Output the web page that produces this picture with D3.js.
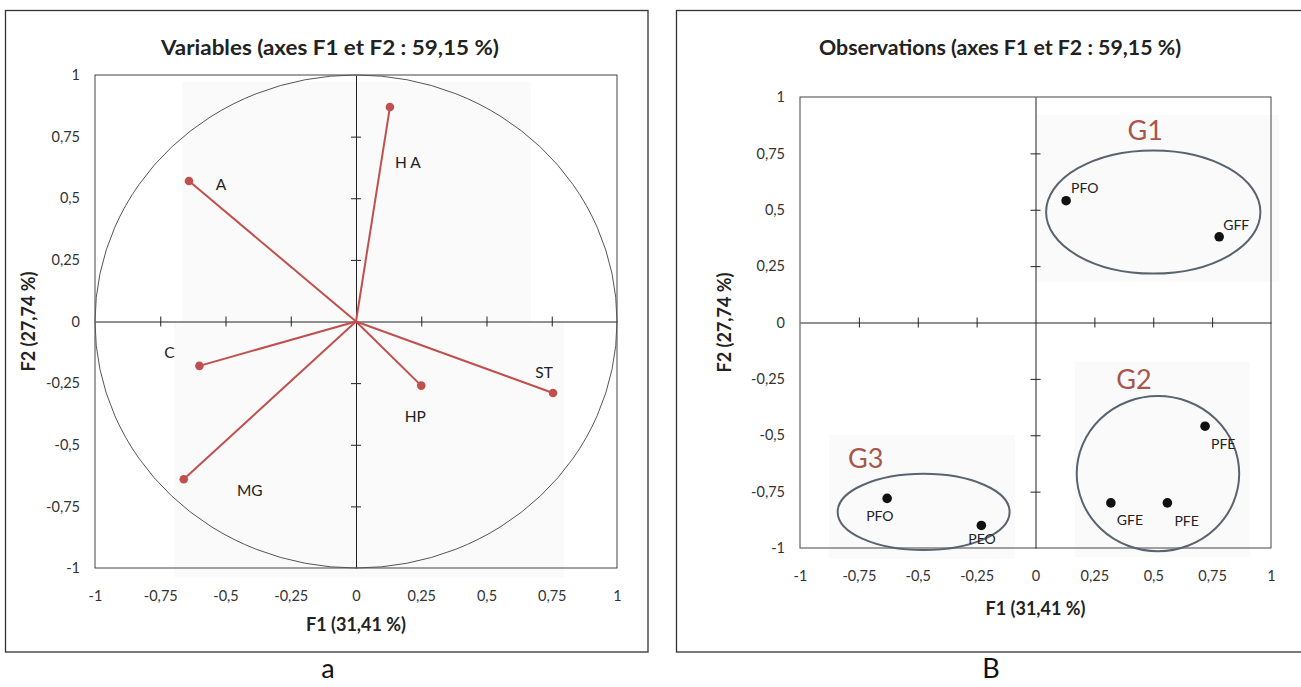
<!DOCTYPE html>
<html><head><meta charset="utf-8">
<script src="https://cdn.jsdelivr.net/npm/d3@7"></script>
<style>
html,body{margin:0;padding:0;background:#fff;}
svg{display:block;}
text{font-family:Lato,"Open Sans",sans-serif;}
</style></head>
<body>
<svg id="c" width="1301" height="687"></svg>
<script>
// ---- data ----
const tickValues = [-1,-0.75,-0.5,-0.25,0,0.25,0.5,0.75,1];
const titleLeft = "Variables (axes F1 et F2 : 59,15 %)";
const titleRight = "Observations (axes F1 et F2 : 59,15 %)";
const xTitle = "F1 (31,41 %)";
const yTitle = "F2 (27,74 %)";
const varNames = ["A","H A","C","MG","HP","ST"];
const varF1 = [-0.64, 0.13, -0.60, -0.66, 0.25, 0.755];
const varF2 = [0.57, 0.87, -0.18, -0.64, -0.26, -0.29];
const obsNames = ["PFO","GFF","PFE","GFE","PFE","PFO","PEO"];
const obsF1 = [0.13, 0.78, 0.72, 0.32, 0.56, -0.63, -0.23];
const obsF2 = [0.54, 0.38, -0.46, -0.80, -0.80, -0.78, -0.90];
const groupNames = ["G1","G2","G3"];
const groupCx = [0.50, 0.52, -0.475];
const groupCy = [0.49, -0.67, -0.84];
const groupRx = [0.455, 0.345, 0.365];
const groupRy = [0.273, 0.344, 0.169];

// ---- layout (pixel offsets for labels) ----
const varLabelOff = [[32,3],[18,55],[-30,-14],[66,11],[-6,30],[-9,-21]];
const obsLabelOff = [[5,-13],[4,-12],[6,17],[6,17],[7,18],[-21,17],[-13,13]];
const groupLabelOff = [[-8,-21],[-24,-18],[-58,-16]];

const svg = d3.select("#c");
const fmt = d => String(d).replace(".", ",");

function panel(opts){
  const g = svg.append("g");
  const x = d3.scaleLinear().domain([-1,1]).range(opts.xr);
  const y = d3.scaleLinear().domain([-1,1]).range(opts.yr);
  // faint scan backgrounds
  (opts.bg||[]).forEach(b=>{
    g.append("rect").attr("x",b[0]).attr("y",b[1]).attr("width",b[2]-b[0]).attr("height",b[3]-b[1]).attr("fill","#fafafa");
  });
  // outer box
  g.append("rect").attr("x",opts.box[0]).attr("y",opts.box[1])
    .attr("width",opts.box[2]-opts.box[0]).attr("height",opts.box[3]-opts.box[1])
    .attr("fill","none").attr("stroke","#333").attr("stroke-width",1.3);
  // title
  g.append("text").attr("x",opts.titleX).attr("y",opts.titleY).attr("text-anchor","middle")
    .attr("font-size",21).attr("font-weight","bold").attr("fill","#222")
    .attr("textLength",opts.titleW).attr("lengthAdjust","spacingAndGlyphs").text(opts.title);
  // frame
  g.append("rect").attr("x",x(-1)).attr("y",y(1)).attr("width",x(1)-x(-1)).attr("height",y(-1)-y(1))
    .attr("fill","none").attr("stroke","#444").attr("stroke-width",1);
  // tick labels via axes
  const ax = g.append("g").attr("transform",`translate(0,${y(-1)+20})`)
    .call(d3.axisBottom(x).tickValues(tickValues).tickFormat(fmt).tickSize(0));
  ax.select(".domain").remove();
  ax.selectAll("text").attr("font-family","Lato,sans-serif").attr("font-size",14.5).attr("fill","#333");
  const ay = g.append("g").attr("transform",`translate(${x(-1)-12},0)`)
    .call(d3.axisLeft(y).tickValues(tickValues).tickFormat(fmt).tickSize(0));
  ay.select(".domain").remove();
  ay.selectAll("text").attr("font-family","Lato,sans-serif").attr("font-size",14.5).attr("fill","#333");
  // zero axes with crossing ticks
  const zx = g.append("g").attr("transform",`translate(0,${y(0)})`)
    .call(d3.axisBottom(x).tickValues(tickValues.filter(v=>v!==0 && Math.abs(v)!==1)).tickFormat("").tickSizeOuter(0));
  zx.select(".domain").attr("stroke","#222");
  zx.selectAll(".tick line").attr("y1",-5).attr("y2",5).attr("stroke","#222");
  const zy = g.append("g").attr("transform",`translate(${x(0)},0)`)
    .call(d3.axisLeft(y).tickValues(tickValues.filter(v=>v!==0 && Math.abs(v)!==1)).tickFormat("").tickSizeOuter(0));
  zy.select(".domain").attr("stroke","#222");
  zy.selectAll(".tick line").attr("x1",-5).attr("x2",5).attr("stroke","#222");
  // axis titles
  g.append("text").attr("x",x(0)).attr("y",opts.xTitleY).attr("text-anchor","middle")
    .attr("font-size",18).attr("font-weight","bold").attr("fill","#222").text(xTitle);
  g.append("text").attr("transform",`translate(${opts.yTitleX},${y(0)}) rotate(-90)`).attr("text-anchor","middle")
    .attr("dominant-baseline","central").attr("font-size",18).attr("font-weight","bold").attr("fill","#222").text(yTitle);
  // caption
  g.append("text").attr("x",opts.capX).attr("y",678).attr("text-anchor","middle")
    .attr("font-family","'Liberation Serif',serif").attr("font-size",27).attr("fill","#111").text(opts.caption);
  return {g,x,y};
}

// ---- left panel ----
const L = panel({xr:[95,617], yr:[568,75], box:[5.5,10.5,648,652], title:titleLeft, titleX:330, titleY:55, titleW:338,
  xTitleY:631, yTitleX:28, capX:328, caption:"a",
  bg:[[182,82,531,322],[174,322,564,577]]});
// correlation circle
L.g.append("ellipse").attr("cx",L.x(0)).attr("cy",L.y(0)).attr("rx",L.x(1)-L.x(0)).attr("ry",L.y(0)-L.y(1))
  .attr("fill","none").attr("stroke","#555").attr("stroke-width",1);
const vars = varNames.map((n,i)=>({n,f1:varF1[i],f2:varF2[i],off:varLabelOff[i]}));
L.g.selectAll("line.v").data(vars).join("line").attr("class","v")
  .attr("x1",L.x(0)).attr("y1",L.y(0)).attr("x2",d=>L.x(d.f1)).attr("y2",d=>L.y(d.f2))
  .attr("stroke","#c0504d").attr("stroke-width",2);
L.g.selectAll("circle.v").data(vars).join("circle").attr("class","v")
  .attr("cx",d=>L.x(d.f1)).attr("cy",d=>L.y(d.f2)).attr("r",4.3).attr("fill","#c0504d");
L.g.selectAll("text.v").data(vars).join("text").attr("class","v")
  .attr("x",d=>L.x(d.f1)+d.off[0]).attr("y",d=>L.y(d.f2)+d.off[1]).attr("text-anchor","middle")
  .attr("dominant-baseline","central").attr("font-size",15.5).attr("fill","#222").text(d=>d.n);

// ---- right panel ----
const R = panel({xr:[800,1271], yr:[548,97], box:[676.5,10.5,1306,652], title:titleRight, titleX:1000, titleY:55, titleW:362,
  xTitleY:615, yTitleX:724, capX:991, caption:"B",
  bg:[[1036,115,1279,282],[1075,362,1250,557],[829,435,1015,559]]});
const groups = groupNames.map((n,i)=>({n,cx:groupCx[i],cy:groupCy[i],rx:groupRx[i],ry:groupRy[i],off:groupLabelOff[i]}));
R.g.selectAll("ellipse.g").data(groups).join("ellipse").attr("class","g")
  .attr("cx",d=>R.x(d.cx)).attr("cy",d=>R.y(d.cy))
  .attr("rx",d=>R.x(d.rx)-R.x(0)).attr("ry",d=>R.y(0)-R.y(d.ry))
  .attr("fill","none").attr("stroke","#5a6470").attr("stroke-width",2);
R.g.selectAll("text.g").data(groups).join("text").attr("class","g")
  .attr("x",d=>R.x(d.cx)+d.off[0]).attr("y",d=>R.y(d.cy+d.ry)+d.off[1]).attr("text-anchor","middle")
  .attr("dominant-baseline","central").attr("font-size",27).attr("fill","#a8564c").text(d=>d.n);
const obs = obsNames.map((n,i)=>({n,f1:obsF1[i],f2:obsF2[i],off:obsLabelOff[i]}));
R.g.selectAll("circle.o").data(obs).join("circle").attr("class","o")
  .attr("cx",d=>R.x(d.f1)).attr("cy",d=>R.y(d.f2)).attr("r",4.8).attr("fill","#111");
R.g.selectAll("text.o").data(obs).join("text").attr("class","o")
  .attr("x",d=>R.x(d.f1)+d.off[0]).attr("y",d=>R.y(d.f2)+d.off[1])
  .attr("dominant-baseline","central").attr("font-size",14).attr("fill","#222").text(d=>d.n);
</script>
</body></html>
